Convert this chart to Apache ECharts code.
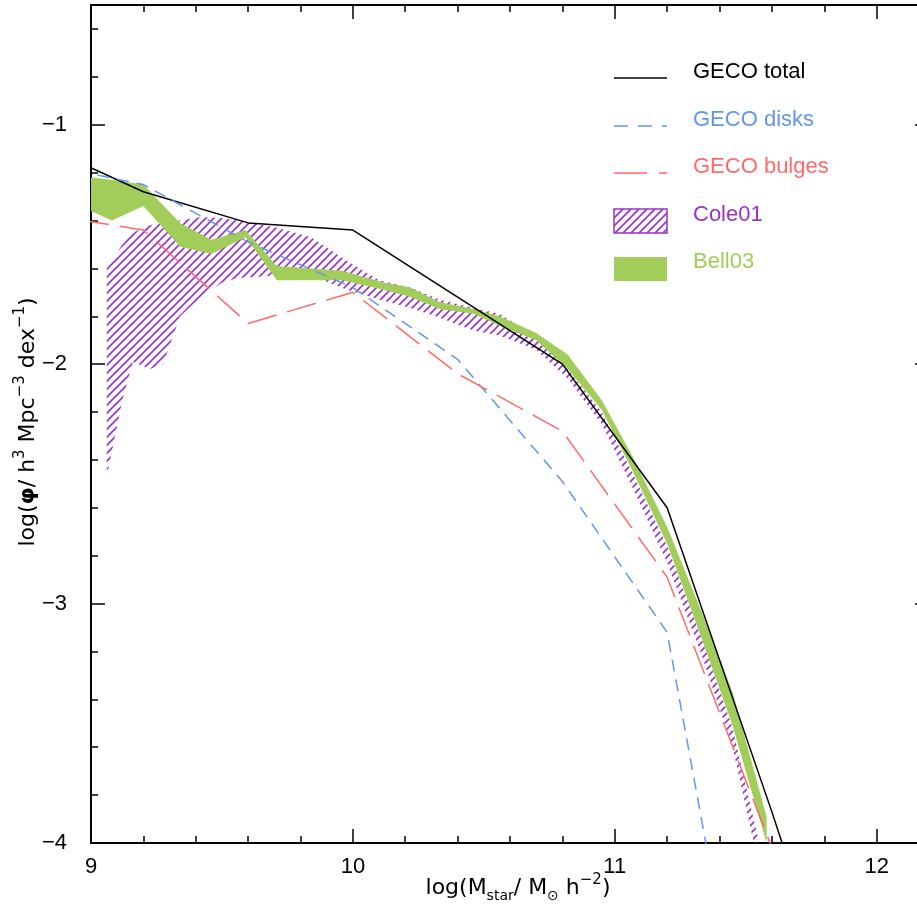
<!DOCTYPE html>
<html>
<head>
<meta charset="utf-8">
<title>Stellar mass function</title>
<script src="https://cdn.jsdelivr.net/npm/echarts@6/dist/echarts.min.js"></script>
<style>
html, body { margin: 0; padding: 0; background: #fff; }
#chart { width: 917px; height: 912px; }
</style>
</head>
<body>
<div id="chart"></div>
<script>
// GECO curves, 0.4 dex bins (ends run off the frame and get clipped)
var gecoMass = [8.8, 9.2, 9.6, 10.0, 10.4, 10.8, 11.2, 11.6, 12.0];
var gecoTotal = [-1.08, -1.28, -1.41, -1.44, -1.72, -2.0, -2.6, -3.87, -5.2];
var gecoDisks = [-1.16, -1.25, -1.49, -1.68, -1.98, -2.49, -3.12, -5.5, -7.0];
var gecoBulges = [-1.37, -1.44, -1.83, -1.70, -2.04, -2.28, -2.89, -4.02, -5.2];

// Cole01 band (hatched)
var coleMass = [9.06, 9.12, 9.16, 9.225, 9.275, 9.34, 9.42, 9.5, 9.56, 9.71, 9.84, 9.98, 10.10, 10.22, 10.33, 10.46, 10.56, 10.70, 10.82, 10.95, 11.07, 11.20, 11.33, 11.45, 11.545];
var coleHigh = [-1.60, -1.50, -1.45, -1.42, -1.41, -1.40, -1.385, -1.39, -1.40, -1.43, -1.47, -1.57, -1.65, -1.68, -1.73, -1.765, -1.79, -1.885, -2.02, -2.20, -2.46, -2.76, -3.14, -3.52, -3.97];
var coleLow = [-2.47, -2.15, -1.99, -2.02, -2.00, -1.80, -1.72, -1.66, -1.64, -1.63, -1.63, -1.69, -1.73, -1.765, -1.805, -1.86, -1.88, -1.94, -2.06, -2.25, -2.52, -2.83, -3.21, -3.60, -4.07];

// Bell03 band (filled)
var bellMass = [9.0, 9.08, 9.2, 9.34, 9.46, 9.59, 9.71, 9.96, 10.12, 10.22, 10.33, 10.46, 10.56, 10.7, 10.82, 10.95, 11.07, 11.2, 11.33, 11.45, 11.58];
var bellHigh = [-1.22, -1.23, -1.25, -1.41, -1.48, -1.44, -1.59, -1.61, -1.66, -1.68, -1.74, -1.77, -1.80, -1.87, -1.96, -2.15, -2.39, -2.68, -3.03, -3.37, -3.89];
var bellLow = [-1.36, -1.40, -1.34, -1.51, -1.54, -1.47, -1.65, -1.65, -1.69, -1.72, -1.77, -1.79, -1.84, -1.90, -2.02, -2.19, -2.45, -2.75, -3.14, -3.51, -4.0];

var xTicks = [9, 10, 11, 12];
var yTicks = [-4, -3, -2, -1];

var cTotal = '#000000', cDisk = '#6495ED', cBulge = '#FF6A6A', cCole = '#9932CC', cBell = '#A2CD5A';
var font = 'Liberation Sans';
var titleFont = 'DejaVu Sans';

var dom = document.getElementById('chart');
var myChart = echarts.init(dom);

// diagonal hatch tile
function makeHatch(color) {
    var c = document.createElement('canvas');
    c.width = 8;
    c.height = 8;
    var g = c.getContext('2d');
    g.strokeStyle = color;
    g.lineWidth = 1.6;
    g.beginPath();
    g.moveTo(-1, 9); g.lineTo(9, -1);
    g.moveTo(-1, 1); g.lineTo(1, -1);
    g.moveTo(7, 9); g.lineTo(9, 7);
    g.stroke();
    return c;
}
var hatch = { image: makeHatch(cCole), repeat: 'repeat' };

function pairs(xs, ys) {
    var out = [];
    for (var i = 0; i < xs.length; i++) out.push([xs[i], ys[i]]);
    return out;
}

function band(name, xs, lo, hi, fill, z) {
    return {
        type: 'custom',
        name: name,
        clip: true,
        z: z,
        silent: true,
        data: [[xs[0], hi[0]]],
        renderItem: function (params, api) {
            var pts = [];
            for (var i = 0; i < xs.length; i++) pts.push(api.coord([xs[i], hi[i]]));
            for (var j = xs.length - 1; j >= 0; j--) pts.push(api.coord([xs[j], lo[j]]));
            return { type: 'polygon', shape: { points: pts }, style: { fill: fill, stroke: null } };
        }
    };
}

function curve(name, xs, ys, color, dash) {
    return {
        type: 'line',
        name: name,
        data: pairs(xs, ys),
        showSymbol: false,
        symbol: 'none',
        clip: true,
        silent: true,
        z: 5,
        lineStyle: { color: color, width: 1.5, type: dash || 'solid' }
    };
}

function xAx(pos, major) {
    return {
        type: 'value', position: pos, min: 9, max: 12.2, interval: major ? 1 : 0.2,
        axisLine: { show: major, lineStyle: { color: '#000', width: 2 } },
        axisTick: { show: true, inside: true, length: major ? 14 : 7, lineStyle: { color: '#000', width: 1.5 } },
        axisLabel: {
            show: major && pos === 'bottom', margin: 13, color: '#000', fontSize: 22, fontFamily: font,
            formatter: function (v) { return xTicks.indexOf(v) >= 0 ? String(v) : ''; }
        },
        splitLine: { show: false }
    };
}

function yAx(pos, major) {
    return {
        type: 'value', position: pos, min: -4, max: -0.5, interval: major ? 1 : 0.2,
        axisLine: { show: major, lineStyle: { color: '#000', width: 2 } },
        axisTick: { show: true, inside: true, length: major ? 14 : 7, lineStyle: { color: '#000', width: 1.5 } },
        axisLabel: {
            show: major && pos === 'left', margin: 24, color: '#000', fontSize: 22, fontFamily: font,
            formatter: function (v) { return yTicks.indexOf(v) >= 0 ? '\u2212' + Math.abs(v) : ''; }
        },
        splitLine: { show: false }
    };
}

// legend rows
var legendItems = [
    { label: 'GECO total', color: cTotal, kind: 'line', dash: null, y: 72 },
    { label: 'GECO disks', color: cDisk, kind: 'line', dash: [14, 10], y: 120 },
    { label: 'GECO bulges', color: cBulge, kind: 'line', dash: [33, 12], y: 167 },
    { label: 'Cole01', color: cCole, kind: 'hatch', y: 215 },
    { label: 'Bell03', color: cBell, kind: 'fill', y: 262 }
];
var graphics = [];
legendItems.forEach(function (it) {
    if (it.kind === 'line') {
        graphics.push({
            type: 'line', shape: { x1: 614, y1: it.y + 6, x2: 667, y2: it.y + 6 },
            style: { stroke: it.color, lineWidth: 1.5, lineDash: it.dash }
        });
    } else if (it.kind === 'hatch') {
        graphics.push({
            type: 'rect', shape: { x: 614, y: it.y - 6, width: 53, height: 24 },
            style: { fill: hatch, stroke: it.color, lineWidth: 1.5 }
        });
    } else {
        graphics.push({
            type: 'rect', shape: { x: 614, y: it.y - 5, width: 53, height: 24 },
            style: { fill: it.color }
        });
    }
    graphics.push({
        type: 'text', x: 693, y: it.y,
        style: { text: it.label, fill: it.color, font: '22px "' + font + '"', verticalAlign: 'middle' }
    });
});

var richBase = {
    n: { fontSize: 22, fontFamily: titleFont, lineHeight: 30, fill: '#000' },
    b: { fontSize: 22, fontFamily: titleFont, fontWeight: 'bold', lineHeight: 30, fill: '#000' },
    sup: { fontSize: 15, fontFamily: titleFont, lineHeight: 15, verticalAlign: 'top', fill: '#000' },
    sub: { fontSize: 14, fontFamily: titleFont, lineHeight: 14, verticalAlign: 'bottom', fill: '#000' }
};
// axis titles
graphics.push({
    type: 'text', x: 518, y: 888,
    style: {
        text: '{n|log(M}{sub|star}{n|/ M}{sub|\u2299}{n| h}{sup|\u22122}{n|)}',
        rich: richBase, align: 'center', verticalAlign: 'middle'
    }
});
graphics.push({
    type: 'text', x: 28, y: 422, rotation: Math.PI / 2,
    style: {
        text: '{n|log(}{b|\u03c6}{n|/ h}{sup|3}{n| Mpc}{sup|\u22123}{n| dex}{sup|\u22121}{n|)}',
        rich: richBase, align: 'center', verticalAlign: 'middle'
    }
});

var option = {
    animation: false,
    backgroundColor: '#fff',
    grid: { left: 91, right: -12, top: 5, bottom: 69, outerBoundsMode: 'none', containLabel: false },
    xAxis: [xAx('bottom', true), xAx('bottom', false), xAx('top', true), xAx('top', false)],
    yAxis: [yAx('left', true), yAx('left', false), yAx('right', true), yAx('right', false)],
    graphic: graphics,
    series: [
        band('Cole01', coleMass, coleLow, coleHigh, hatch, 1),
        band('Bell03', bellMass, bellLow, bellHigh, cBell, 2),
        curve('GECO total', gecoMass, gecoTotal, cTotal),
        curve('GECO disks', gecoMass, gecoDisks, cDisk, [12, 8]),
        curve('GECO bulges', gecoMass, gecoBulges, cBulge, [30, 11])
    ]
};
myChart.setOption(option);
</script>
</body>
</html>
